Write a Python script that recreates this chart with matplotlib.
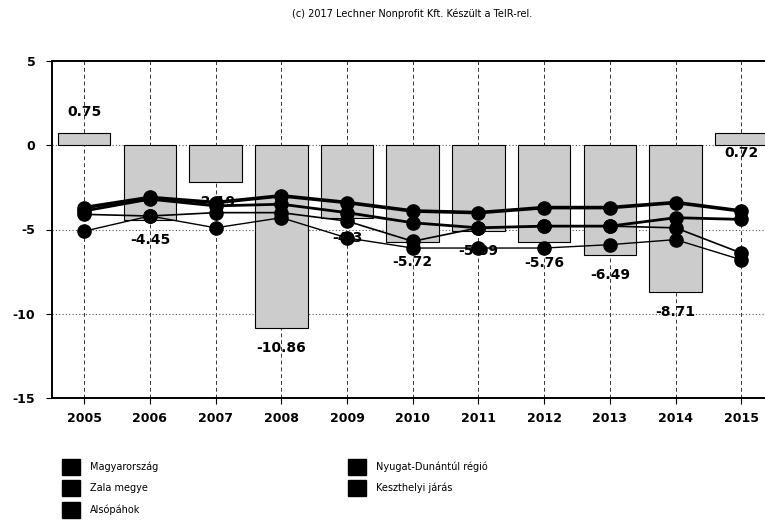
import numpy as np
import matplotlib
matplotlib.use("Agg")
import matplotlib.pyplot as plt
from matplotlib.patches import Rectangle

plt.rcParams["axes.unicode_minus"] = False

years = [2005, 2006, 2007, 2008, 2009, 2010, 2011, 2012, 2013, 2014, 2015]

# Alsópáhok (oszlopok)
alsopahok = [0.75, -4.45, -2.19, -10.86, -4.3, -5.72, -5.09, -5.76, -6.49, -8.71, 0.72]

# vonalak
magyarorszag = [-3.7, -3.1, -3.4, -3.0, -3.4, -3.9, -4.0, -3.7, -3.7, -3.4, -3.9]
nyugat_dunantul = [-3.9, -3.2, -3.6, -3.5, -4.0, -4.6, -4.9, -4.8, -4.8, -4.3, -4.4]
zala = [-4.1, -4.2, -4.0, -4.0, -4.5, -5.7, -4.9, -4.8, -4.8, -4.9, -6.4]
keszthelyi = [-5.1, -4.2, -4.9, -4.3, -5.5, -6.1, -6.1, -6.1, -5.9, -5.6, -6.8]

legend_col1 = ["Magyarország", "Zala megye", "Alsópáhok"]
legend_col2 = ["Nyugat-Dunántúl régió", "Keszthelyi járás"]

yticks = [5, 0, -5, -10, -15]

fig = plt.figure(figsize=(7.65, 5.31), dpi=100)
ax = fig.add_axes([52 / 765, 1 - 398 / 531, 1 - 52 / 765, (398 - 61) / 531])

ax.bar(years, alsopahok, width=0.8, color="#cccccc", edgecolor="black",
       linewidth=0.8, zorder=2)

# feliratok az oszlopokhoz
for i, (x, v) in enumerate(zip(years, alsopahok)):
    y = v + 1.2 if i == 0 else v - 1.2
    ax.text(x, y, f"{v:g}", ha="center", va="center", fontsize=10,
            fontweight="bold", zorder=3)

ax.plot(years, magyarorszag, color="black", lw=2.6, marker="o", ms=9.5, zorder=5)
ax.plot(years, nyugat_dunantul, color="black", lw=2.0, marker="o", ms=9.5, zorder=5)
ax.plot(years, zala, color="black", lw=1.2, marker="o", ms=9.5, zorder=5)
ax.plot(years, keszthelyi, color="black", lw=1.0, marker="o", ms=9.5, zorder=5)

ax.set_xlim(2005 - 0.49, 2015 + 0.36)
ax.set_ylim(-15, 5)
ax.set_yticks(yticks)
ax.set_xticks(years)
ax.tick_params(axis="both", labelsize=9, length=4, direction="out")
for lbl in ax.get_xticklabels() + ax.get_yticklabels():
    lbl.set_fontweight("bold")
ax.tick_params(axis="x", pad=6)
ax.tick_params(axis="y", pad=8)

for x in years:
    ax.axvline(x, color="#333333", lw=0.7, ls=(0, (4, 3)), zorder=1)
for y in [0, -5, -10]:
    ax.axhline(y, color="#555555", lw=0.8, ls=(0, (1, 2)), zorder=1)

ax.spines["right"].set_visible(False)
for s in ["left", "top", "bottom"]:
    ax.spines[s].set_linewidth(1.4)

fig.text(412 / 765, 1 - 14 / 531, "(c) 2017 Lechner Nonprofit Kft. Készült a TeIR-rel.",
         ha="center", va="center", fontsize=7)

# jelmagyarázat
rows = [467, 488, 510]
for names, x0 in [(legend_col1, 62), (legend_col2, 348)]:
    for name, yrow in zip(names, rows):
        fig.add_artist(Rectangle((x0 / 765, 1 - (yrow + 8) / 531), 18 / 765, 16 / 531,
                                 transform=fig.transFigure, color="black"))
        fig.text((x0 + 28) / 765, 1 - yrow / 531, name, ha="left", va="center",
                 fontsize=7)

fig.savefig("out.png", dpi=100)
